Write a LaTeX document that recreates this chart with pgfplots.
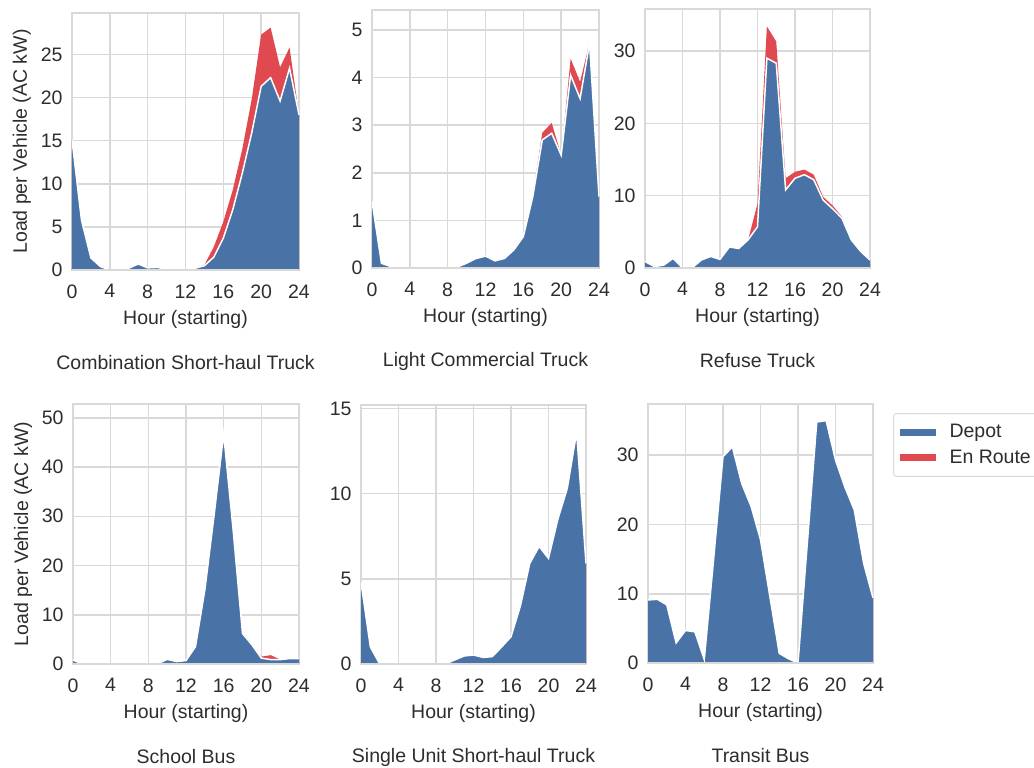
\documentclass[border=0pt]{standalone}
\usepackage{pgfplots}
\pgfplotsset{compat=1.18}
\usepackage{pgfplotstable}
\usepackage{fontspec}
\setmainfont{Liberation Sans}
\definecolor{depot}{RGB}{73,115,167}
\definecolor{enroute}{RGB}{224,73,79}
\definecolor{gridc}{RGB}{217,217,217}
\definecolor{txt}{RGB}{45,45,45}
\newcommand\fs{\fontsize{19.5}{23}\selectfont}

% Combination Short-haul Truck
\pgfplotstableread{
h dep enr
0 15.1 0
1 5.8 0
2 1.4 0
3 0.4 0
4 0 0
5 0 0
6 0.2 0
7 0.7 0
8 0.25 0
9 0.3 0
10 0.1 0
11 0 0
12 0 0
13 0.2 0
14 0.5 0.1
15 1.5 1.2
16 3.7 1.9
17 7.0 2.3
18 11.2 2.8
19 15.9 3.9
20 21.3 6.0
21 22.3 5.8
22 19.6 3.9
23 23.4 2.4
24 18.0 0
}\tcombo

% Light Commercial Truck
\pgfplotstableread{
h dep enr
0 1.4 0
1 0.1 0
2 0.03 0
3 0 0
4 0 0
5 0 0
6 0 0
7 0 0
8 0 0
9 0.02 0
10 0.1 0
11 0.2 0
12 0.25 0
13 0.15 0
14 0.2 0
15 0.38 0
16 0.66 0.02
17 1.5 0.03
18 2.69 0.15
19 2.83 0.22
20 2.37 0
21 4.05 0.35
22 3.56 0.35
23 4.72 0.02
24 1.5 0
}\tlight

% Refuse Truck
\pgfplotstableread{
h dep enr
0 0.9 0
1 0.2 0
2 0.4 0
3 1.34 0
4 0 0
5 0 0
6 1.1 0
7 1.6 0
8 1.2 0
9 2.9 0
10 2.7 0
11 3.9 0
12 5.7 3.2
13 29.0 4.4
14 28.3 3.0
15 10.8 1.6
16 12.4 0.9
17 12.9 0.7
18 12.2 0.7
19 9.4 0.45
20 8.2 0.45
21 6.9 0.2
22 3.9 0
23 2.3 0
24 1.1 0
}\trefuse

% School Bus
\pgfplotstableread{
h dep enr
0 0.8 0
1 0 0
2 0 0
3 0 0
4 0 0
5 0 0
6 0 0
7 0 0
8 0 0
9 0 0
10 0.95 0
11 0.5 0
12 0.7 0
13 3.5 0
14 15.0 0
15 30.5 0
16 46.7 0
17 27.3 0
18 6.2 0
19 3.9 0
20 1.2 0.3
21 0.9 0.9
22 0.9 0
23 1.1 0
24 1.1 0
}\tschool

% Single Unit Short-haul Truck
\pgfplotstableread{
h dep enr
0 4.8 0
1 1.0 0
2 0 0
3 0 0
4 0 0
5 0 0
6 0 0
7 0 0
8 0 0
9 0 0
10 0.24 0
11 0.47 0
12 0.53 0
13 0.39 0
14 0.43 0
15 1.0 0
16 1.6 0
17 3.4 0
18 5.9 0
19 6.9 0
20 6.2 0
21 8.5 0
22 10.3 0
23 13.6 0
24 5.9 0
}\tsingle

% Transit Bus
\pgfplotstableread{
h dep enr
0 9.1 0
1 9.2 0
2 8.4 0
3 2.9 0
4 4.7 0
5 4.5 0
6 0.5 0
7 15.0 0
8 29.8 0
9 31.2 0
10 25.9 0
11 22.6 0
12 17.8 0
13 9.6 0
14 1.4 0
15 0.6 0
16 0 0
17 17.4 0
18 34.8 0
19 35.0 0
20 29.3 0
21 25.4 0
22 22.1 0
23 14.4 0
24 9.4 0
}\ttransit

\pgfplotsset{
  sub/.style={
    scale only axis, anchor=south west,
    xmin=0, xmax=24, ymin=0,
    xtick={0,4,...,24},
    grid=major, grid style={gridc, line width=1.5pt},
    axis line style={gridc, line width=1.5pt},
    major tick length=0pt,
    tick label style={font=\fs, text=txt},
    /pgf/number format/assume math mode=true,
    xticklabel style={yshift=-11pt},
    yticklabel style={xshift=-6pt},
    xlabel={Hour (starting)},
    xlabel style={at={(axis description cs:0.5,0)}, anchor=center, yshift=-49pt, font=\fs, text=txt},
    title style={at={(axis description cs:0.5,0)}, anchor=center, yshift=-99pt, font=\fs, text=txt},
    ylabel style={at={(axis description cs:-0.221,0.5)}, anchor=center, font=\fs, text=txt},
  },
}
\newcommand\areas[1]{%
  \addplot[fill=enroute, draw=none, forget plot] table[x=h, y expr=\thisrow{dep}+\thisrow{enr}] {#1} \closedcycle;
  \addplot[fill=depot, draw=none, forget plot] table[x=h, y=dep] {#1} \closedcycle;
  \addplot[white, line width=1.5pt, forget plot] table[x=h, y=dep] {#1};
  \draw[gridc, line width=1.5pt] (axis cs:0,0) -- (axis cs:24,0);
}

\begin{document}
\begin{tikzpicture}
\path[use as bounding box] (0,0) rectangle (1034pt,-768pt);

\begin{axis}[sub, at={(72pt,-270pt)}, width=227pt, height=257pt, ymax=29.8,
  ytick={0,5,...,25}, ylabel={Load per Vehicle (AC kW)}, title={Combination Short-haul Truck}]
\areas{\tcombo}
\end{axis}

\begin{axis}[sub, at={(372pt,-268pt)}, width=227pt, height=258pt, ymax=5.42,
  ytick={0,1,...,5}, title={Light Commercial Truck}]
\areas{\tlight}
\end{axis}

\begin{axis}[sub, at={(645pt,-268pt)}, width=225pt, height=259pt, ymax=35.8,
  ytick={0,10,20,30}, title={Refuse Truck}]
\areas{\trefuse}
\end{axis}

\begin{axis}[sub, at={(73pt,-664pt)}, width=226pt, height=260pt, ymax=52.8,
  ytick={0,10,...,50}, ylabel={Load per Vehicle (AC kW)}, title={School Bus}]
\areas{\tschool}
\end{axis}

\begin{axis}[sub, at={(361pt,-664pt)}, width=225pt, height=259pt, ymax=15.2,
  ytick={0,5,10,15}, title={Single Unit Short-haul Truck}]
\areas{\tsingle}
\end{axis}

\begin{axis}[sub, at={(648pt,-663pt)}, width=225pt, height=259pt, ymax=37.4,
  ytick={0,10,20,30}, title={Transit Bus},
  legend style={at={(axis description cs:1.089,0.965)}, anchor=north west,
    draw=gridc, line width=1pt, rounded corners=3pt, font=\fs, text=txt,
    row sep=7pt, inner xsep=6pt, inner ysep=9pt},
  legend cell align=left,
  legend image code/.code={\fill[#1, draw=none, rounded corners=0pt] (0pt,-3.5pt) rectangle (36pt,3.5pt); \path[draw=none, fill=none] (0pt,0pt) -- (48pt,0pt);}]
\addlegendimage{fill=depot}
\addlegendentry{Depot}
\addlegendimage{fill=enroute}
\addlegendentry{En Route}
\areas{\ttransit}
\end{axis}
\end{tikzpicture}
\end{document}
